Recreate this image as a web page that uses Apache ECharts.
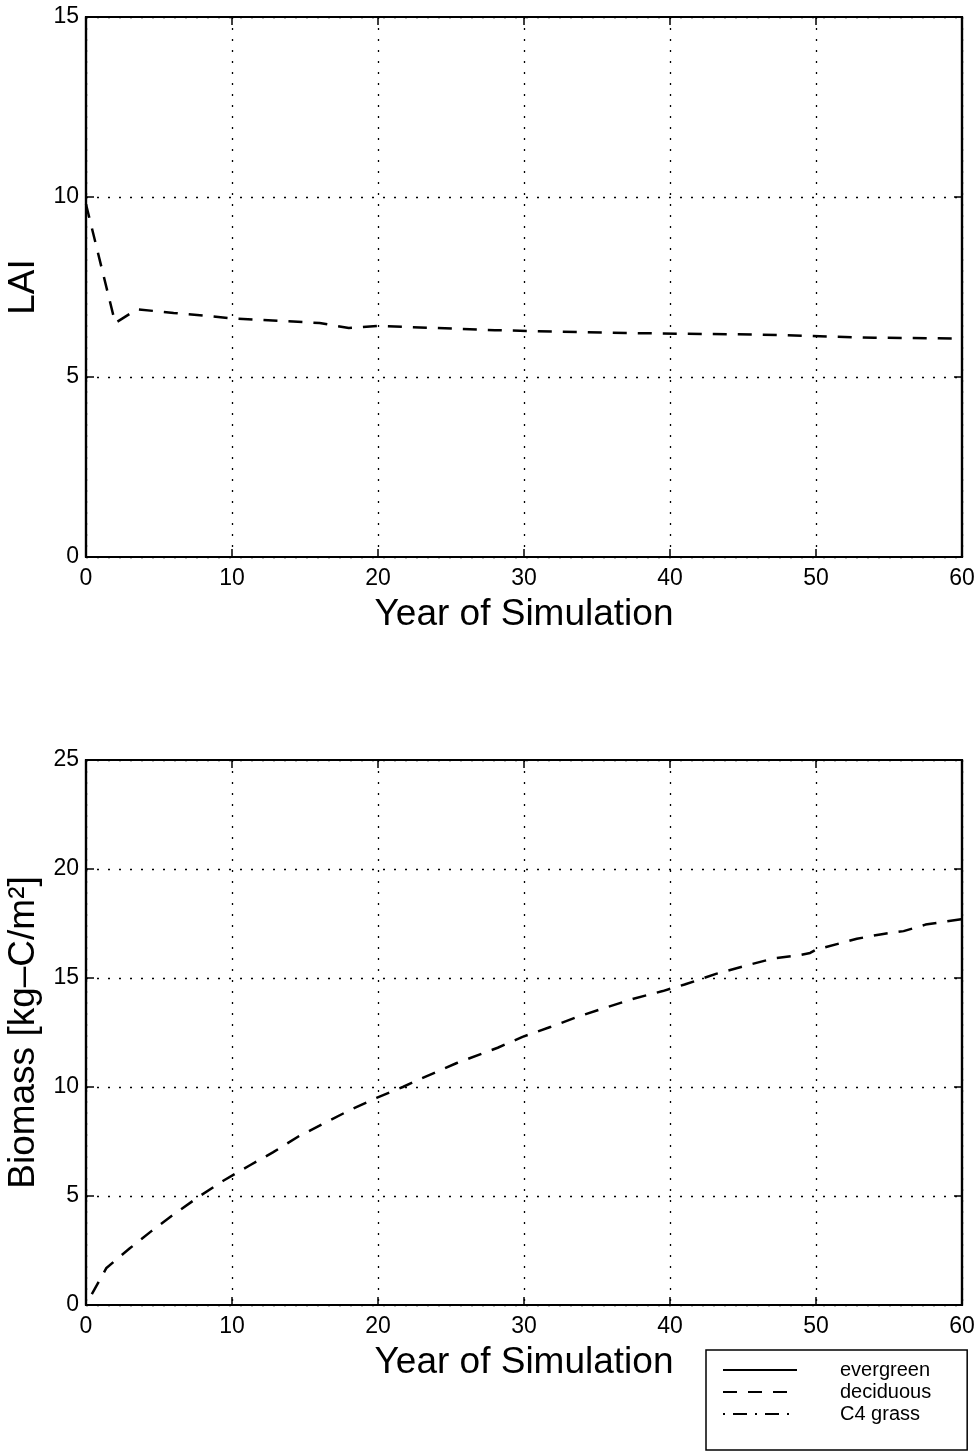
<!DOCTYPE html>
<html>
<head>
<meta charset="utf-8">
<script src="https://cdn.jsdelivr.net/npm/echarts@6/dist/echarts.min.js"></script>
<style>
  html, body { margin: 0; padding: 0; background: #fff; }
  #chart { width: 980px; height: 1454px; }
</style>
</head>
<body>
<div id="chart"></div>
<script>
// Simulated years shown on both panels
const xTicks = [0, 10, 20, 30, 40, 50, 60];
const laiTicks = [0, 5, 10, 15];
const biomassTicks = [0, 5, 10, 15, 20, 25];

// Deciduous leaf area index, [year, LAI]
const laiDeciduous = [
  [0, 9.8], [2, 6.5], [3.5, 6.88], [6, 6.78], [10, 6.63], [16, 6.5],
  [18, 6.36], [20, 6.42], [28, 6.3], [37, 6.22], [46, 6.18], [54, 6.09], [60, 6.07]
];

// Deciduous biomass, [year, kg-C/m2]
const biomassDeciduous = [
  [0.4, 0.5], [1.4, 1.7], [3, 2.6], [4.5, 3.4], [6.1, 4.2], [7.8, 5.0],
  [9.4, 5.7], [11.2, 6.4], [12.8, 7.0], [14.6, 7.75], [16.5, 8.4], [18.1, 8.95],
  [19.9, 9.5], [21.7, 10.0], [23, 10.4], [25.4, 11.1], [28.2, 11.8], [29.9, 12.3],
  [31.8, 12.75], [33.6, 13.2], [35.4, 13.6], [37.5, 14.05], [39.5, 14.4], [41, 14.7],
  [43.2, 15.2], [45.1, 15.55], [47.1, 15.9], [48.9, 16.05], [49.6, 16.15], [50, 16.3],
  [52.8, 16.8], [54.4, 17.0], [56, 17.15], [57.5, 17.45], [60, 17.7]
];

// Vegetation types listed in the key
const evergreenLai = [];
const c4GrassLai = [];
const vegetationTypes = ['evergreen', 'deciduous', 'C4 grass'];

const FONT = 'Liberation Sans, Arial, Helvetica, sans-serif';
const DASH = [14, 11];
const DASH_DOT = [2, 8, 14, 8];

function axisPair(ticks, gridIndex, isX, labelled) {
  const step = ticks[1] - ticks[0];
  const base = {
    type: 'value',
    gridIndex,
    min: ticks[0],
    max: ticks[ticks.length - 1],
    interval: step,
    axisLine: { show: true, onZero: false, lineStyle: { color: '#000', width: 2.2 } },
    axisTick: { show: true, inside: true, length: 8, lineStyle: { color: '#000', width: 1.5 } },
    splitLine: { show: false },
    axisLabel: { show: false }
  };
  const main = Object.assign({}, base, {
    position: isX ? 'bottom' : 'left',
    axisLabel: {
      show: labelled,
      color: '#000',
      fontFamily: FONT,
      fontSize: 23,
      margin: isX ? 10 : 7
    },
    splitLine: {
      show: true,
      lineStyle: { color: '#000', width: 1.3, type: [2, 9] }
    }
  });
  const mirror = Object.assign({}, base, { position: isX ? 'top' : 'right' });
  return [main, mirror];
}

const [x0, x0t] = axisPair(xTicks, 0, true, true);
const [x1, x1t] = axisPair(xTicks, 1, true, true);
const [y0, y0r] = axisPair(laiTicks, 0, false, true);
const [y1, y1r] = axisPair(biomassTicks, 1, false, true);

const xName = {
  name: 'Year of Simulation',
  nameLocation: 'middle',
  nameGap: 39,
  nameTextStyle: { color: '#000', fontFamily: FONT, fontSize: 37 }
};
Object.assign(x0, xName);
Object.assign(x1, xName);

Object.assign(y0, {
  name: 'LAI',
  nameLocation: 'middle',
  nameGap: 38,
  nameTextStyle: { color: '#000', fontFamily: FONT, fontSize: 37 }
});
Object.assign(y1, {
  name: 'Biomass [kg–C/m²]',
  nameLocation: 'middle',
  nameGap: 39,
  nameTextStyle: { color: '#000', fontFamily: FONT, fontSize: 37 }
});

const chart = echarts.init(document.getElementById('chart'), null, { renderer: 'canvas' });

const gridBase = {
  left: 86, width: 876, show: true, borderColor: '#000', borderWidth: 2.2,
  backgroundColor: 'transparent', containLabel: false, outerBoundsMode: 'none'
};

chart.setOption({
  animation: false,
  backgroundColor: '#fff',
  grid: [
    Object.assign({}, gridBase, { top: 17, height: 540 }),
    Object.assign({}, gridBase, { top: 760, height: 545 })
  ],
  xAxis: [x0, x0t, x1, x1t],
  yAxis: [y0, y0r, y1, y1r],
  legend: {
    data: vegetationTypes,
    orient: 'vertical',
    left: 706,
    top: 1350,
    padding: [10, 36, 26, 16],
    itemGap: 2,
    itemWidth: 74,
    itemHeight: 14,
    borderColor: '#000',
    borderWidth: 1.5,
    backgroundColor: '#fff',
    selectedMode: false,
    itemStyle: { opacity: 0 },
    textStyle: { color: '#000', fontFamily: FONT, fontSize: 20, padding: [0, 0, 0, 38] }
  },
  series: [
    {
      name: 'evergreen', type: 'line', xAxisIndex: 0, yAxisIndex: 0,
      data: evergreenLai, symbol: 'none', symbolSize: 0,
      lineStyle: { color: '#000', width: 2, type: 'solid' }, itemStyle: { color: '#000' }
    },
    {
      name: 'deciduous', type: 'line', xAxisIndex: 0, yAxisIndex: 0,
      data: laiDeciduous, symbol: 'none', symbolSize: 0,
      lineStyle: { color: '#000', width: 2.5, type: DASH }, itemStyle: { color: '#000' }
    },
    {
      name: 'C4 grass', type: 'line', xAxisIndex: 0, yAxisIndex: 0,
      data: c4GrassLai, symbol: 'none', symbolSize: 0,
      lineStyle: { color: '#000', width: 2, type: DASH_DOT }, itemStyle: { color: '#000' }
    },
    {
      name: 'deciduous', type: 'line', xAxisIndex: 2, yAxisIndex: 2,
      data: biomassDeciduous, symbol: 'none', symbolSize: 0,
      lineStyle: { color: '#000', width: 2.5, type: DASH }, itemStyle: { color: '#000' }
    }
  ]
});
</script>
</body>
</html>
